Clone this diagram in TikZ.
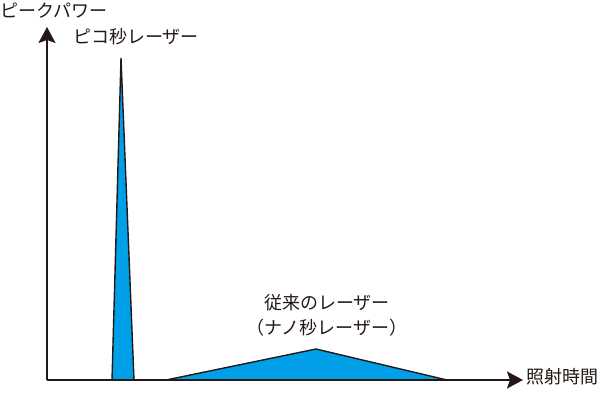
\documentclass[tikz,border=0pt]{standalone}
\usepackage{fontspec}
\usepackage{xcolor}
\usetikzlibrary{arrows.meta, positioning}
\newfontfamily\jpfont{Noto Sans CJK JP}
\definecolor{pulseblue}{RGB}{0, 160, 233}
\definecolor{axisdark}{RGB}{35, 24, 21}
\tikzstyle{axis} = [-{Stealth[length=16pt, width=17pt, inset=3pt]}, line width=1.8pt, draw=axisdark]
\tikzstyle{pulse} = [fill=pulseblue, draw=axisdark, line width=1.4pt, line join=miter]
\tikzstyle{label} = [font=\jpfont\fontsize{18}{21}\selectfont, text=axisdark, inner sep=0pt]

\begin{document}
\begin{tikzpicture}[x=1pt, y=-1pt]
    \useasboundingbox (0,0) rectangle (600,393);

    % Axes
    \coordinate (origin) at (47, 380);
    \coordinate (ytip) at (47, 27);
    \coordinate (xtip) at (523, 380);

    % Picosecond pulse
    \coordinate (pica) at (112, 380);
    \coordinate (picpeak) at (121, 58);
    \coordinate (picb) at (134, 380);
    \draw[pulse] (pica) -- (picpeak) -- (picb);

    % Nanosecond pulse
    \coordinate (nana) at (166, 380);
    \coordinate (nanpeak) at (316, 349);
    \coordinate (nanb) at (447, 380);
    \draw[pulse] (nana) -- (nanpeak) -- (nanb);

    \draw[axis] (origin) -- (ytip);
    \draw[axis] (origin) -- (xtip);

    % Labels
    \node[label, anchor=west] (power) at (0, 11) {ピークパワー};
    \node[label, anchor=west] (pico) at (73, 37) {ピコ秒レーザー};
    \node[label] (conv) at (327, 303) {従来のレーザー};
    \node[label, below=7pt of conv] (nano) {（ナノ秒レーザー）};
    \node[label, anchor=east] (time) at (599, 377) {照射時間};
\end{tikzpicture}
\end{document}
